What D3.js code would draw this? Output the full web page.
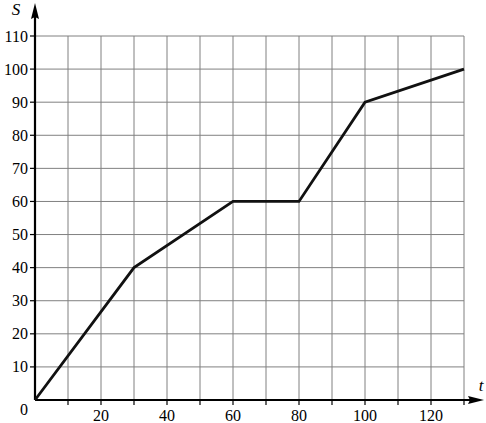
<!DOCTYPE html>
<html><head><meta charset="utf-8">
<script src="https://cdn.jsdelivr.net/npm/d3@7"></script>
<style>body{margin:0;background:#fff}svg{display:block}text{font-family:"Liberation Serif","Times New Roman",serif}</style>
</head><body>
<svg id="c" width="486" height="423"></svg>
<script>
const tValues = [0, 30, 60, 80, 100, 130];
const sValues = [0, 40, 60, 60, 90, 100];
const xTickLabels = [20, 40, 60, 80, 100, 120];
const yTickLabels = [10, 20, 30, 40, 50, 60, 70, 80, 90, 100, 110];

const svg = d3.select("#c");
const x = d3.scaleLinear().domain([0, 130]).range([35, 464]);
const y = d3.scaleLinear().domain([0, 110]).range([400, 36]);

const xGrid = d3.range(10, 131, 10);
const yGrid = d3.range(10, 111, 10);

const g = svg.append("g");
g.selectAll(".vx").data(xGrid).join("line")
  .attr("x1", d => x(d)).attr("x2", d => x(d))
  .attr("y1", y(0)).attr("y2", y(110))
  .attr("stroke", "#808080").attr("stroke-width", 1);
g.selectAll(".hy").data(yGrid).join("line")
  .attr("x1", x(0)).attr("x2", x(130))
  .attr("y1", d => y(d)).attr("y2", d => y(d))
  .attr("stroke", "#808080").attr("stroke-width", 1);

// tick marks
g.selectAll(".tx").data(xGrid).join("line")
  .attr("x1", d => x(d)).attr("x2", d => x(d))
  .attr("y1", y(0)).attr("y2", y(0) + 5)
  .attr("stroke", "#000").attr("stroke-width", 1.2);
g.selectAll(".ty").data(yGrid).join("line")
  .attr("x1", x(0) - 5).attr("x2", x(0))
  .attr("y1", d => y(d)).attr("y2", d => y(d))
  .attr("stroke", "#000").attr("stroke-width", 1.2);

// axes
g.append("line").attr("x1", x(0)).attr("x2", 474).attr("y1", y(0)).attr("y2", y(0))
  .attr("stroke", "#000").attr("stroke-width", 2.2);
g.append("line").attr("x1", x(0)).attr("x2", x(0)).attr("y1", y(0)).attr("y2", 14)
  .attr("stroke", "#000").attr("stroke-width", 2.2);
g.append("path").attr("d", `M484,${y(0)} L468,${y(0)-4} L470,${y(0)} L468,${y(0)+4} Z`).attr("fill", "#000");
g.append("path").attr("d", `M${x(0)},3 L${x(0)-4},19 L${x(0)},17 L${x(0)+4},19 Z`).attr("fill", "#000");

// labels
g.selectAll(".yl").data(yTickLabels).join("text")
  .attr("x", 28).attr("y", d => y(d) + 5.5)
  .attr("text-anchor", "end").attr("font-size", 16)
  .text(d => d);
g.selectAll(".xl").data(xTickLabels).join("text")
  .attr("x", d => x(d)).attr("y", 421)
  .attr("text-anchor", "middle").attr("font-size", 16)
  .text(d => d);
g.append("text").attr("x", 24).attr("y", 415).attr("text-anchor", "middle")
  .attr("font-size", 16).text("0");
g.append("text").attr("x", 16).attr("y", 15).attr("text-anchor", "middle")
  .attr("font-size", 17).attr("font-style", "italic").text("S");
g.append("text").attr("x", 481).attr("y", 391).attr("text-anchor", "middle")
  .attr("font-size", 17).attr("font-style", "italic").text("t");

// data line
const pts = tValues.map((t, i) => [t, sValues[i]]);
g.append("path").datum(pts)
  .attr("d", d3.line().x(d => x(d[0])).y(d => y(d[1])))
  .attr("fill", "none").attr("stroke", "#111").attr("stroke-width", 2.8)
  .attr("stroke-linejoin", "miter");
</script>
</body></html>
